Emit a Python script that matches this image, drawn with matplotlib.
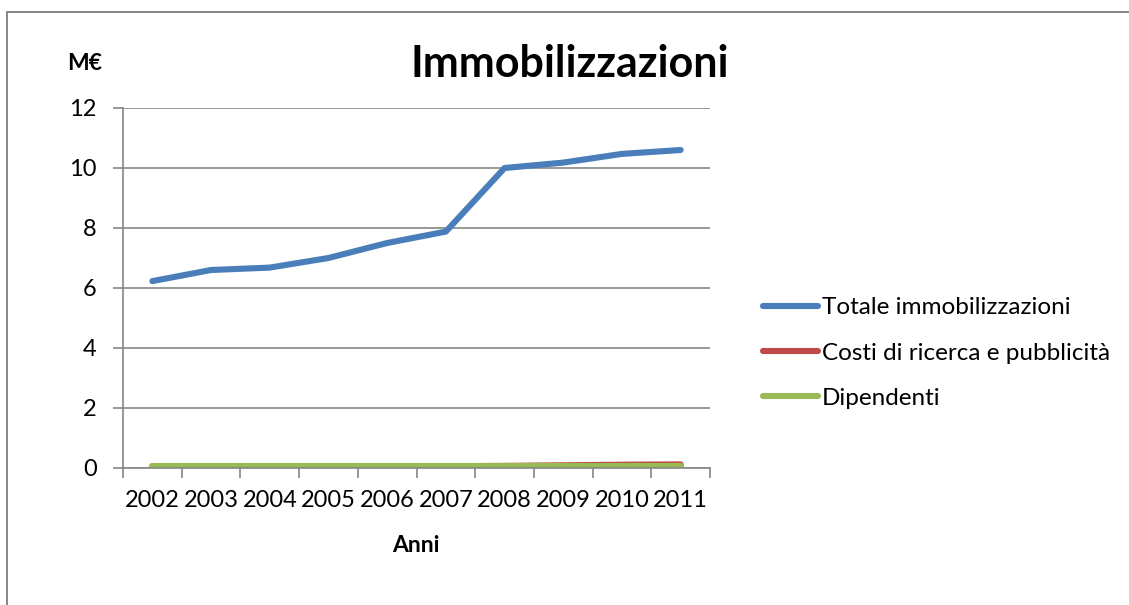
import matplotlib
matplotlib.use("Agg")
import matplotlib.pyplot as plt
import numpy as np
from matplotlib.lines import Line2D

plt.rcParams["font.family"] = ["Lato", "DejaVu Sans"]

years = ["2002", "2003", "2004", "2005", "2006", "2007", "2008", "2009", "2010", "2011"]
totale = [6.23, 6.6, 6.68, 7.0, 7.5, 7.88, 10.0, 10.18, 10.47, 10.6]
costi = [0.01, 0.02, 0.03, 0.04, 0.05, 0.06, 0.07, 0.09, 0.11, 0.12]
dipendenti = [0.08, 0.08, 0.08, 0.08, 0.08, 0.08, 0.08, 0.08, 0.08, 0.08]

GRAY = "#868686"
W, H = 1129, 605

fig = plt.figure(figsize=(W / 100, H / 100), dpi=100)
# chart-area border (only top and left edges are inside the picture)
fig.add_artist(Line2D([7 / W, 1], [1 - 12 / H, 1 - 12 / H], transform=fig.transFigure,
                      color=GRAY, lw=1.4))
fig.add_artist(Line2D([7 / W, 7 / W], [0, 1 - 12 / H], transform=fig.transFigure,
                      color=GRAY, lw=1.4))

ax = fig.add_axes([123 / W, 137 / H, 587 / W, 360 / H])
x = np.arange(len(years))
ax.plot(x, totale, color="#4A7EBB", lw=4.4, solid_capstyle="round", label="Totale immobilizzazioni")
ax.plot(x, costi, color="#BE4B48", lw=4.4, solid_capstyle="round", label="Costi di ricerca e pubblicità")
ax.plot(x, dipendenti, color="#98B954", lw=4.4, solid_capstyle="round", label="Dipendenti")

ax.set_xlim(-0.5, len(years) - 0.5)
ax.set_ylim(0, 12)
ax.set_yticks(range(0, 13, 2))
ax.yaxis.grid(True, color=GRAY, lw=1.2)
ax.set_axisbelow(True)

# category axis: tick marks between categories, labels centred
ax.set_xticks(np.arange(-0.5, len(years), 1.0))
ax.set_xticklabels([])
ax.set_xticks(x, minor=True)
ax.set_xticklabels(years, minor=True)
ax.tick_params(axis="x", which="major", length=7, color=GRAY, width=1.2, direction="out")
ax.tick_params(axis="x", which="minor", length=0, pad=16, labelsize=17)
ax.tick_params(axis="y", length=7, color=GRAY, width=1.2, direction="out", pad=12, labelsize=17)

for s in ["top", "right"]:
    ax.spines[s].set_visible(False)
for s in ["left", "bottom"]:
    ax.spines[s].set_color(GRAY)
    ax.spines[s].set_linewidth(1.2)

fig.text(570 / W, 1 - 77 / H, "Immobilizzazioni", ha="center", va="baseline",
         fontsize=31, fontweight="bold")
fig.text(85 / W, 1 - 70 / H, "M€", ha="center", va="baseline",
         fontsize=16.5, fontweight="bold")
fig.text(416 / W, 1 - 552 / H, "Anni", ha="center", va="baseline",
         fontsize=16.5, fontweight="bold")

fig.legend(loc="center left", bbox_to_anchor=(763 / W, 1 - 353 / H),
           frameon=False, fontsize=17.5, handlelength=2.26, handletextpad=0.16,
           labelspacing=1.0, borderaxespad=0, borderpad=0)

fig.savefig("out.png", dpi=100)
